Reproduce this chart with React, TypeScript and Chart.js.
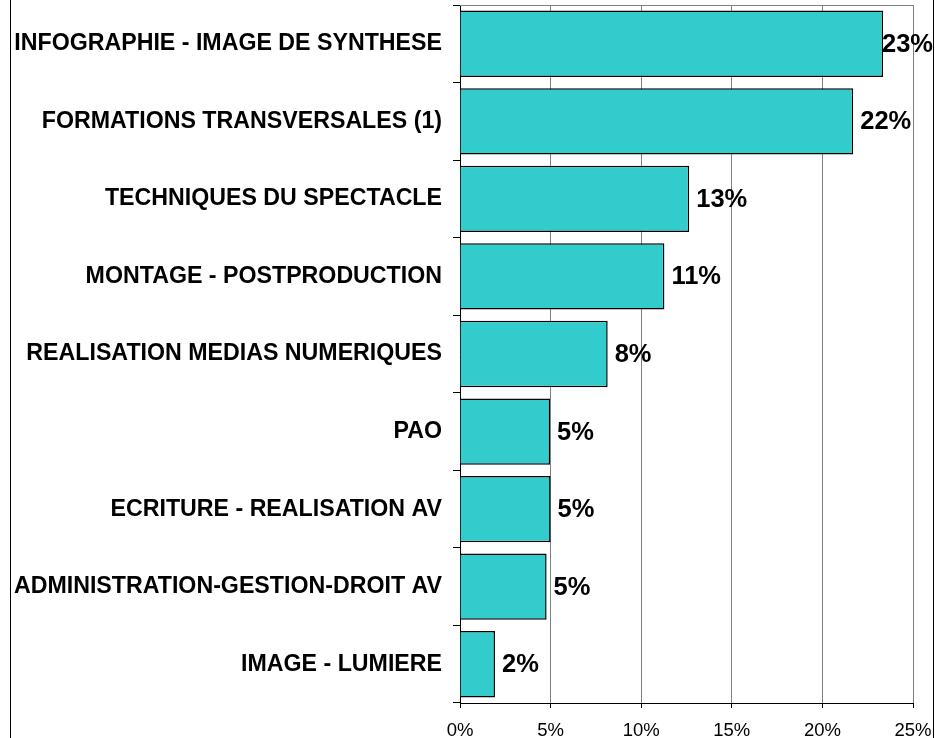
import React, { useEffect, useRef } from "react";
import { Chart, registerables } from "chart.js";

Chart.register(...registerables);

const categories = [
  "INFOGRAPHIE - IMAGE DE SYNTHESE",
  "FORMATIONS TRANSVERSALES (1)",
  "TECHNIQUES DU SPECTACLE",
  "MONTAGE - POSTPRODUCTION",
  "REALISATION MEDIAS NUMERIQUES",
  "PAO",
  "ECRITURE - REALISATION AV",
  "ADMINISTRATION-GESTION-DROIT AV",
  "IMAGE - LUMIERE",
];
const shares = [23.35, 21.7, 12.65, 11.28, 8.15, 4.97, 5.0, 4.78, 1.93];
const xTicks = [0, 5, 10, 15, 20, 25];

const FONT = "'Liberation Sans', Arial, sans-serif";

const framePlugin = {
  id: "frame",
  beforeDatasetsDraw(chart: any) {
    const { ctx, chartArea } = chart;
    ctx.save();
    ctx.strokeStyle = "#808080";
    ctx.lineWidth = 1;
    ctx.beginPath();
    ctx.moveTo(chartArea.left, chartArea.top + 0.5);
    ctx.lineTo(chartArea.right + 0.5, chartArea.top + 0.5);
    ctx.lineTo(chartArea.right + 0.5, chartArea.bottom);
    ctx.stroke();
    ctx.restore();
  },
  afterDraw(chart: any) {
    const { ctx, width, height } = chart;
    ctx.save();
    ctx.strokeStyle = "#000";
    ctx.lineWidth = 1;
    ctx.beginPath();
    ctx.moveTo(10.5, 0);
    ctx.lineTo(10.5, height);
    ctx.moveTo(width - 1.5, 0);
    ctx.lineTo(width - 1.5, height);
    ctx.stroke();
    ctx.restore();
  },
};

const labelPlugin = {
  id: "barLabels",
  afterDatasetsDraw(chart: any) {
    const { ctx } = chart;
    const meta = chart.getDatasetMeta(0);
    ctx.save();
    ctx.font = `bold 25.5px ${FONT}`;
    ctx.fillStyle = "#000";
    ctx.textBaseline = "middle";
    ctx.textAlign = "left";
    meta.data.forEach((bar: any, i: number) => {
      const text = Math.round(shares[i]) + "%";
      const w = ctx.measureText(text).width;
      let x = bar.x + 7;
      const maxRight = chart.width - 2;
      if (x + w > maxRight) x = maxRight - w;
      ctx.fillText(text, x, bar.y + 1);
    });
    ctx.restore();
  },
};

export default function App() {
  const ref = useRef<HTMLCanvasElement | null>(null);
  useEffect(() => {
    if (!ref.current) return;
    const chart = new Chart(ref.current, {
      type: "bar",
      data: {
        labels: categories,
        datasets: [
          {
            data: shares,
            backgroundColor: "#33CCCC",
            borderColor: "#000",
            borderWidth: 1.5,
            barPercentage: 0.855,
            categoryPercentage: 1,
          },
        ],
      },
      options: {
        indexAxis: "y",
        animation: false,
        responsive: false,
        layout: { padding: { top: 5, right: 22, left: 0, bottom: 0 } },
        plugins: { legend: { display: false }, tooltip: { enabled: false } },
        scales: {
          x: {
            min: 0,
            max: 25,
            afterBuildTicks(scale: any) {
              scale.ticks = xTicks.map((v) => ({ value: v }));
            },
            afterFit(scale: any) {
              scale.height = 35;
              scale.paddingLeft = 0;
              scale.paddingRight = 0;
            },
            ticks: {
              callback: (v: any) => v + "%",
              color: "#000",
              font: { family: FONT, size: 18.5 },
              padding: 12,
              maxRotation: 0,
            },
            grid: { color: "#808080", tickColor: "#000", tickLength: 5 },
            border: { color: "#000", width: 1 },
          },
          y: {
            afterFit(scale: any) {
              scale.width = 460;
              scale.paddingTop = 0;
              scale.paddingBottom = 0;
            },
            ticks: {
              color: "#000",
              font: { family: FONT, size: 23.2, weight: "bold" },
              padding: 11,
              autoSkip: false,
            },
            grid: {
              drawOnChartArea: false,
              tickColor: "#000",
              tickLength: 7,
              offset: true,
            },
            border: { color: "#000", width: 1 },
          },
        },
      },
      plugins: [framePlugin, labelPlugin],
    });
    return () => chart.destroy();
  }, []);
  return (
    <div style={{ position: "fixed", left: 0, top: 0, width: 935, height: 738, background: "#fff" }}>
      <canvas ref={ref} width={935} height={738} style={{ display: "block" }} />
    </div>
  );
}
